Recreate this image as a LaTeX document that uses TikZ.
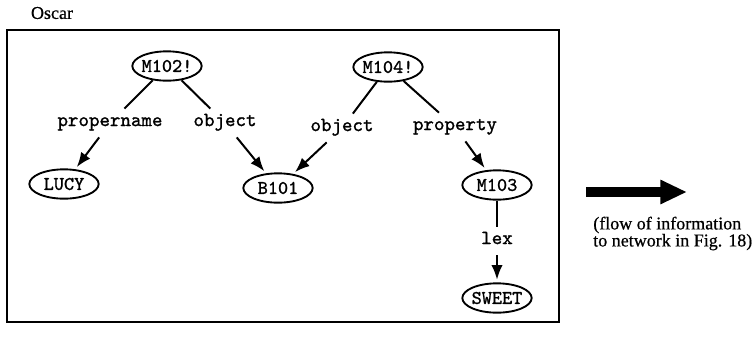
\documentclass[tikz,border=0pt]{standalone}
\usepackage{fontspec}
\setmainfont{Liberation Serif}[FakeBold=0.6]
\setmonofont{lmmono10-regular.otf}[FakeBold=1.2]
\usetikzlibrary{shapes.geometric,arrows.meta}
\begin{document}
\begin{tikzpicture}[x=0.75pt,y=-0.75pt,
  nd/.style={ellipse,draw,line width=1.4pt,inner xsep=-4pt,inner ysep=-2pt,
    minimum width=52pt,minimum height=22pt,font=\ttfamily\fontsize{14.5}{16}\selectfont},
  lbl/.style={inner xsep=2pt,inner ysep=6pt,text height=1.5ex,text depth=0.5ex,
    font=\ttfamily\fontsize{15}{17}\selectfont},
  ln/.style={line width=1.5pt},
  arr/.style={line width=1.5pt,-{Latex[length=11pt,width=8.5pt]},shorten >=2pt},
  captxt/.style={font=\fontsize{13.5}{12.75}\selectfont}]
\useasboundingbox (0,0) rectangle (756,337);
\node[draw,line width=1.1pt,minimum width=414pt,minimum height=219pt,inner sep=0] (frame) at (283,176) {};
\node[captxt,inner sep=0] (oscar) at (52,13) {Oscar};
\node[nd] (m102) at (167,66) {M102!};
\node[nd] (m104) at (388,67) {M104!};
\node[nd] (lucy) at (64,184) {LUCY};
\node[nd] (b101) at (278,188) {B101};
\node[nd] (m103) at (497,185) {M103};
\node[nd] (sweet) at (497,298) {SWEET};
\node[lbl] (pn) at (110,123) {propername};
\node[lbl] (ob1) at (225,123) {object};
\node[lbl] (ob2) at (342,128) {object};
\node[lbl] (prop) at (455,127) {property};
\node[lbl] (lex) at (497,241) {lex};
\draw[ln] (m102) -- (pn);
\draw[arr] (pn) -- (lucy);
\draw[ln] (m102) -- (ob1);
\draw[arr] (ob1) -- (b101);
\draw[ln] (m104) -- (ob2);
\draw[arr] (ob2) -- (b101);
\draw[ln] (m104) -- (prop);
\draw[arr] (prop) -- (m103);
\draw[ln] (m103) -- (lex);
\draw[arr] (lex) -- (sweet);
\coordinate (fa) at (586,192);
\coordinate (fb) at (687,192);
\draw[line width=7pt,-{Triangle[length=20pt,width=17pt]}] (fa) -- (fb);
\node[captxt,anchor=west,align=left,inner sep=0] (capt) at (593,233.5) {(flow of information\\to network in Fig. 18)};
\end{tikzpicture}
\end{document}
